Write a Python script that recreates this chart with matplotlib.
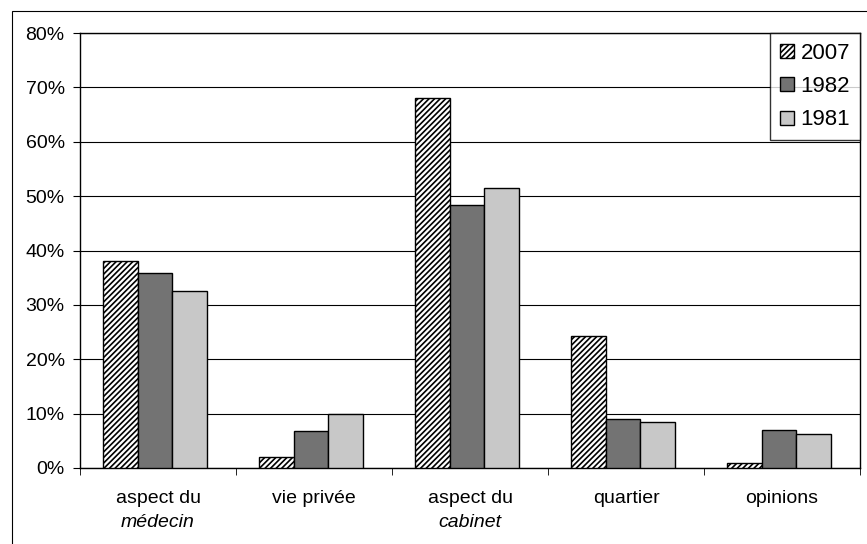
import numpy as np
import matplotlib.pyplot as plt
from matplotlib.patches import Rectangle

plt.rcParams['font.family'] = ['Liberation Sans', 'DejaVu Sans']
plt.rcParams['hatch.linewidth'] = 1.2

# Données
categories_l1 = ["aspect du", "vie privée", "aspect du", "quartier", "opinions"]
categories_l2 = ["médecin", "", "cabinet", "", ""]
annees = ["2007", "1982", "1981"]
v2007 = [38.0, 2.0, 68.0, 24.3, 1.0]
v1982 = [35.8, 6.8, 48.3, 9.0, 7.0]
v1981 = [32.5, 10.0, 51.5, 8.5, 6.3]

fig = plt.figure(figsize=(8.67, 5.44), dpi=100)
ax = fig.add_axes([80 / 867, 1 - 468 / 544, 780 / 867, 435 / 544])

# cadre extérieur
fig.patches.append(Rectangle((12 / 867, -0.05), 1.0, 1.05 - 11 / 544,
                             transform=fig.transFigure, fill=False,
                             edgecolor="black", linewidth=0.8))

x = np.arange(len(categories_l1))
w = 0.222
styles = [
    dict(facecolor="white", hatch="//////"),
    dict(facecolor="#737373"),
    dict(facecolor="#c8c8c8"),
]
for i, (vals, lab) in enumerate(zip([v2007, v1982, v1981], annees)):
    ax.bar(x + (i - 1) * w - 0.02, vals, w, label=lab, edgecolor="black",
           linewidth=1.0, zorder=3, **styles[i])

ax.set_xlim(-0.5, len(x) - 0.5)
ax.set_ylim(0, 80)
ax.set_yticks(np.arange(0, 81, 10))
ax.set_yticklabels([f"{v}%" for v in range(0, 81, 10)], fontsize=14)
ax.yaxis.grid(True, color="black", linewidth=0.8)
ax.set_axisbelow(True)

ax.set_xticks(x)
ax.set_xticklabels(categories_l1, fontsize=14)
ax.tick_params(axis="x", length=0, pad=16)
ax.set_xticks(np.arange(-0.5, len(x), 1), minor=True)
ax.tick_params(axis="x", which="minor", length=5, direction="out")
ax.tick_params(axis="y", length=5, direction="out", pad=6)

for xi, t in zip(x, categories_l2):
    if t:
        ax.annotate(t, (xi, 0), xycoords=("data", "axes fraction"),
                    xytext=(0, -39.5), textcoords="offset points",
                    ha="center", va="center", fontsize=14, style="italic")

for s in ax.spines.values():
    s.set_linewidth(1.0)

leg = ax.legend(loc="upper right", fontsize=16, frameon=True, fancybox=False,
                edgecolor="black", borderaxespad=0.0, handlelength=0.6,
                handleheight=0.6, handletextpad=0.3, labelspacing=0.55,
                borderpad=0.45)
leg.get_frame().set_linewidth(1.0)

fig.savefig("out.png", dpi=100)
